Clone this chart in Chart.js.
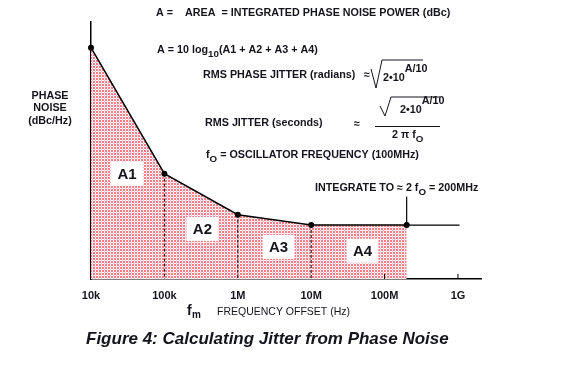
<!DOCTYPE html>
<html>
<head>
<meta charset="utf-8">
<script src="https://cdn.jsdelivr.net/npm/chart.js@4"></script>
<style>
  html, body { margin: 0; padding: 0; background: #fff; }
  #wrap { width: 561px; height: 366px; }
</style>
</head>
<body>
<div id="wrap"><canvas id="c" width="561" height="366"></canvas></div>
<script>
// data (phase noise profile, dBc/Hz vs offset in Hz)
const offsetHz = [1e4, 1e5, 1e6, 1e7, 2e8];
const phaseNoise = [-80, -129, -145, -149, -149];
const tailHz = [2e8, 1.05e9];
const tailNoise = [-149, -149];
const integrateMarkHz = [2e8, 2e8];
const integrateMarkNoise = [-149, -138];
const dashedAt = [1e5, 1e6, 1e7];
const tickValues = [1e4, 1e5, 1e6, 1e7, 1e8, 1e9];
const tickLabels = ['10k', '100k', '1M', '10M', '100M', '1G'];
const innerTicks = [1e8, 1e9];
const yMin = -170, yMax = -70;
const xMin = 1e4, xMax = 2.06e9;
const areaNames = ['A1', 'A2', 'A3', 'A4'];
const areaHz = [3.1e4, 3.3e5, 3.6e6, 5.0e7];
const areaNoise = [-129, -150.5, -157.5, -159];

const FONT = '"Liberation Sans", Arial, sans-serif';
const INK = '#14141c';
const FS = 10.75;

// pink/white checker like the printed hatch
function makePattern() {
    const p = document.createElement('canvas');
    p.width = 3; p.height = 3;
    const g = p.getContext('2d');
    g.fillStyle = '#f77c88';
    g.fillRect(0, 0, 3, 3);
    g.fillStyle = '#ffffff';
    g.fillRect(2, 0, 1, 3);
    g.fillRect(0, 2, 3, 1);
    g.fillStyle = '#fbc4ca';
    g.fillRect(2, 2, 1, 1);
    return g.createPattern(p, 'repeat');
}

const pts = (xs, ys) => xs.map((x, i) => ({ x: x, y: ys[i] }));

const datasets = [
    {
        data: pts(offsetHz, phaseNoise),
        borderColor: '#000', borderWidth: 1.5,
        backgroundColor: makePattern(),
        fill: 'start',
        pointRadius: 3, pointBackgroundColor: '#000', pointBorderWidth: 0,
        tension: 0, clip: false, order: 5
    },
    {
        data: pts(tailHz, tailNoise),
        borderColor: '#000', borderWidth: 1.2, pointRadius: 0, fill: false
    },
    {
        data: pts(integrateMarkHz, integrateMarkNoise),
        borderColor: '#000', borderWidth: 1.2, pointRadius: 0, fill: false
    }
];
dashedAt.forEach(f => {
    const y = phaseNoise[offsetHz.indexOf(f)];
    datasets.push({
        data: [{ x: f, y: y }, { x: f, y: yMin }],
        borderColor: '#000', borderWidth: 1, borderDash: [3, 2],
        pointRadius: 0, fill: false
    });
});
innerTicks.forEach(f => {
    datasets.push({
        data: [{ x: f, y: yMin }, { x: f, y: yMin + 2 }],
        borderColor: '#000', borderWidth: 1, pointRadius: 0, fill: false
    });
});

function txt(ctx, s, x, y, opts) {
    opts = opts || {};
    ctx.font = (opts.font || ('bold ' + FS + 'px')) + ' ' + FONT;
    ctx.textAlign = opts.align || 'left';
    ctx.textBaseline = 'middle';
    ctx.fillText(s, x, y);
    return ctx.measureText(s).width;
}

// writes a run like ["f", {sub:"O"}, " = ..."]
function run(ctx, parts, x, y, size) {
    let cx = x;
    parts.forEach(p => {
        if (typeof p === 'string') {
            cx += txt(ctx, p, cx, y, { font: 'bold ' + size + 'px' });
        } else if (p.sub) {
            cx += txt(ctx, p.sub, cx, y + 4, { font: 'bold ' + (size - 1) + 'px' });
        } else if (p.sup) {
            cx += txt(ctx, p.sup, cx, y - 9, { font: 'bold ' + size + 'px' });
        }
    });
    return cx - x;
}

function radical(ctx, x, yTop, yBot, xEnd) {
    ctx.beginPath();
    ctx.moveTo(x - 2, yTop + 9);
    ctx.lineTo(x + 3, yBot);
    ctx.lineTo(x + 9, yTop);
    ctx.lineTo(xEnd, yTop);
    ctx.stroke();
}

const annotations = {
    id: 'annotations',
    afterDatasetsDraw(chart) {
        const ctx = chart.ctx;
        const xs = chart.scales.x, ys = chart.scales.y;
        ctx.save();
        // area labels on white patches
        areaNames.forEach((n, i) => {
            const px = xs.getPixelForValue(areaHz[i]);
            const py = ys.getPixelForValue(areaNoise[i]);
            ctx.fillStyle = '#fff';
            ctx.fillRect(px - 16, py - 12, 32, 24);
            ctx.fillStyle = INK;
            txt(ctx, n, px, py + 1, { font: 'bold 15px', align: 'center' });
        });
        ctx.restore();
    },
    afterDraw(chart) {
        const ctx = chart.ctx;
        ctx.save();
        ctx.fillStyle = INK;
        ctx.strokeStyle = INK;
        ctx.lineWidth = 1;

        txt(ctx, 'A =', 156, 13);
        txt(ctx, 'AREA  = INTEGRATED PHASE NOISE POWER (dBc)', 185, 13);

        run(ctx, ['A = 10 log', { sub: '10' }, '(A1 + A2 + A3 + A4)'], 157, 50, FS);

        txt(ctx, 'RMS PHASE JITTER (radians)', 203, 75);
        txt(ctx, '\u2248', 364, 75);
        radical(ctx, 373, 60, 88, 423);
        run(ctx, ['2\u202210', { sup: 'A/10' }], 383, 78, FS);

        txt(ctx, 'RMS JITTER (seconds)', 205, 123);
        txt(ctx, '\u2248', 354, 124);
        radical(ctx, 382, 97, 116, 440);
        run(ctx, ['2\u202210', { sup: 'A/10' }], 400, 110, FS);
        ctx.beginPath();
        ctx.moveTo(375, 126.5); ctx.lineTo(440, 126.5);
        ctx.stroke();
        run(ctx, ['2 \u03c0 f', { sub: 'O' }], 392, 135, FS);

        run(ctx, ['f', { sub: 'O' }, ' = OSCILLATOR FREQUENCY (100MHz)'], 206, 155, FS);

        run(ctx, ['INTEGRATE TO \u2248 2 f', { sub: 'O' }, ' = 200MHz'], 315, 188, FS);

        txt(ctx, 'PHASE', 50, 96, { align: 'center' });
        txt(ctx, 'NOISE', 50, 108, { align: 'center' });
        txt(ctx, '(dBc/Hz)', 50, 121, { align: 'center' });

        txt(ctx, 'f', 187, 311, { font: 'bold 14px' });
        txt(ctx, 'm', 192, 315, { font: 'bold 10px' });
        txt(ctx, 'FREQUENCY OFFSET (Hz)', 217, 312, { font: '10.5px' });

        txt(ctx, 'Figure 4: Calculating Jitter from Phase Noise', 86, 339, { font: 'italic bold 17px' });
        ctx.restore();
    }
};

new Chart(document.getElementById('c'), {
    type: 'line',
    data: { datasets: datasets },
    options: {
        responsive: false,
        animation: false,
        events: [],
        layout: { padding: { left: 90, right: 80, top: 22, bottom: 0 } },
        plugins: { legend: { display: false }, tooltip: { enabled: false } },
        scales: {
            x: {
                type: 'logarithmic',
                min: xMin, max: xMax,
                afterBuildTicks: (s) => { s.ticks = tickValues.map(v => ({ value: v })); },
                afterFit: (s) => { s.height = 87; },
                grid: { display: false, drawTicks: false },
                border: { display: true, color: '#000', width: 1.5 },
                ticks: {
                    autoSkip: false, maxRotation: 0, padding: 10,
                    color: INK,
                    font: { family: FONT, size: 11, weight: 'bold' },
                    callback: (v) => { const i = tickValues.indexOf(v); return i >= 0 ? tickLabels[i] : ''; }
                }
            },
            y: {
                type: 'linear',
                min: yMin, max: yMax,
                afterFit: (s) => { s.width = 1; },
                grid: { display: false, drawTicks: false },
                border: { display: true, color: '#000', width: 1.5 },
                ticks: { display: false }
            }
        }
    },
    plugins: [annotations]
});
</script>
</body>
</html>
